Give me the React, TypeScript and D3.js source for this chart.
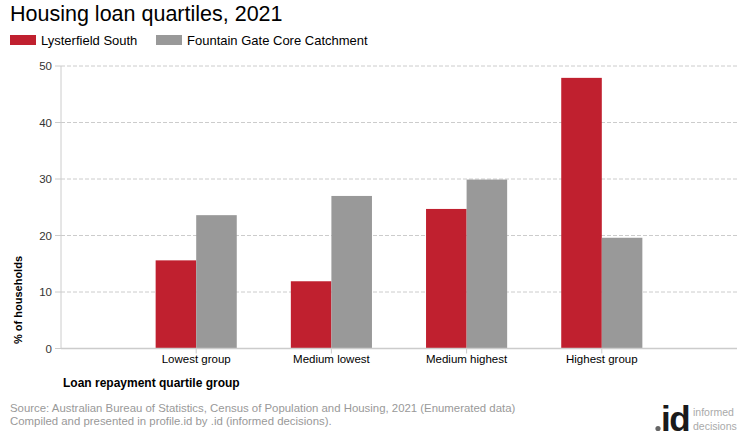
import React from "react";
import * as d3 from "d3";

const categories = ["Lowest group", "Medium lowest", "Medium highest", "Highest group"];
const seriesNames = ["Lysterfield South", "Fountain Gate Core Catchment"];
const lysterfield = [15.6, 11.9, 24.7, 47.9];
const fountainGate = [23.6, 27.0, 29.9, 19.6];
const yTicks = [0, 10, 20, 30, 40, 50];
const colors = ["#C0202F", "#999999"];

export default function App() {
  const W = 740, H = 440;
  const left = 61, right = 737, top = 66, bottom = 348.5;
  const x = d3.scaleLinear().domain([0, categories.length + 1]).range([left, right]);
  const y = d3.scaleLinear().domain([0, 50]).range([bottom, top]);
  const step = x(1) - x(0);
  const barW = step * 0.3;
  const series = [lysterfield, fountainGate];
  const font = "Liberation Sans, Arial, sans-serif";

  return (
    <svg width={W} height={H} style={{ position: "absolute", left: 0, top: 0, fontFamily: font }}>
      <rect width={W} height={H} fill="#fff" />
      <text x={10} y={21} fontSize={21.5} fill="#000">Housing loan quartiles, 2021</text>
      {seriesNames.map((n, i) => {
        const lx = i === 0 ? 10 : 156;
        return (
          <g key={n}>
            <rect x={lx} y={35} width={26} height={10} fill={colors[i]} />
            <text x={lx + 31} y={45} fontSize={13} fill="#000">{n}</text>
          </g>
        );
      })}
      {yTicks.map((t) => (
        <g key={t}>
          {t > 0 && (
            <line x1={left} x2={right} y1={y(t)} y2={y(t)} stroke="#cccccc" strokeDasharray="4,2" />
          )}
          <line x1={left - 6} x2={left} y1={y(t)} y2={y(t)} stroke="#cccccc" />
          <text x={left - 9} y={y(t) + 4} fontSize={11.5} textAnchor="end" fill="#333">{t}</text>
        </g>
      ))}
      {series.map((vals, si) =>
        vals.map((v, ci) => {
          const cx = x(ci + 1);
          const bx = si === 0 ? cx - barW : cx;
          return (
            <rect key={si + "-" + ci} x={bx} y={y(v)} width={barW} height={y(0) - y(v)} fill={colors[si]} />
          );
        })
      )}
      <line x1={left} x2={left} y1={top} y2={bottom} stroke="#cccccc" />
      <line x1={left} x2={right} y1={bottom} y2={bottom} stroke="#cccccc" strokeWidth={1.5} />
      {categories.map((c, i) => (
        <g key={c}>
          <line x1={x(i + 1)} x2={x(i + 1)} y1={bottom} y2={bottom + 5} stroke="#cccccc" />
          <text x={x(i + 1)} y={363} fontSize={11.5} textAnchor="middle" fill="#000">{c}</text>
        </g>
      ))}
      <text transform={`translate(22,300) rotate(-90)`} fontSize={11} fontWeight="bold" textAnchor="middle" fill="#000">% of households</text>
      <text x={63} y={387} fontSize={12} fontWeight="bold" fill="#000">Loan repayment quartile group</text>
      <text x={10} y={412} fontSize={11.4} fill="#999">Source: Australian Bureau of Statistics, Census of Population and Housing, 2021 (Enumerated data)</text>
      <text x={10} y={425} fontSize={11.4} fill="#999">Compiled and presented in profile.id by .id (informed decisions).</text>
      <circle cx={658} cy={428.5} r={2.6} fill="#666" />
      <text x={661} y={431} fontSize={35} fontWeight="bold" fill="#1a1a1a" letterSpacing={-1.5}>id</text>
      <text x={693} y={416} fontSize={10.5} fill="#aaa">informed</text>
      <text x={693} y={430} fontSize={10.5} fill="#aaa">decisions</text>
    </svg>
  );
}
